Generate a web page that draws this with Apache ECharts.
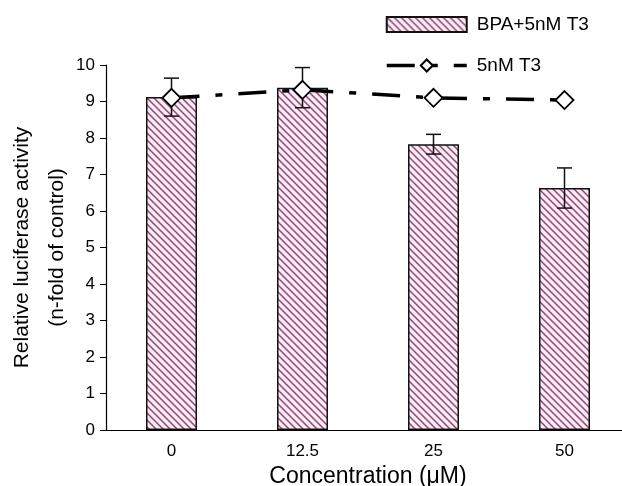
<!DOCTYPE html>
<html>
<head>
<meta charset="utf-8">
<script src="https://cdn.jsdelivr.net/npm/echarts@6/dist/echarts.min.js"></script>
<style>
  html, body { margin: 0; padding: 0; background: #fff; }
  #chart { width: 622px; height: 486px; }
</style>
</head>
<body>
<div id="chart"></div>
<script>
// data
var categories = ['0', '12.5', '25', '50'];
var bpaValues = [9.12, 9.38, 7.83, 6.63];
var bpaErrors = [0.52, 0.55, 0.27, 0.55];
var t3Values = [9.1, 9.32, 9.1, 9.04];

var t3Dash = [28, 16, 7, 16];

// hatch fill for the bars
function hatch () {
  var c = document.createElement('canvas');
  c.width = 7;
  c.height = 7;
  var ctx = c.getContext('2d');
  ctx.fillStyle = '#faeaf3';
  ctx.fillRect(0, 0, 7, 7);
  ctx.strokeStyle = '#8e4a74';
  ctx.lineWidth = 1.5;
  ctx.beginPath();
  ctx.moveTo(-1, -1); ctx.lineTo(8, 8);
  ctx.moveTo(-8, -1); ctx.lineTo(1, 8);
  ctx.moveTo(6, -1); ctx.lineTo(15, 8);
  ctx.stroke();
  return c;
}

var errData = bpaValues.map(function (v, i) {
  return [i, v - bpaErrors[i], v + bpaErrors[i]];
});

var chart = echarts.init(document.getElementById('chart'));
var font = 'Liberation Sans, Arial, sans-serif';

chart.setOption({
  backgroundColor: '#fff',
  animation: false,
  textStyle: { fontFamily: font, color: '#000' },
  legend: {
    orient: 'vertical',
    left: 380,
    top: 10,
    itemWidth: 80,
    itemHeight: 15,
    itemGap: 22,
    textStyle: { fontSize: 19, color: '#000', fontFamily: font, padding: [0, 0, 0, 5] },
    data: [
      { name: 'BPA+5nM T3', icon: 'rect' },
      { name: '5nM T3', lineStyle: { width: 3.5, type: t3Dash } }
    ]
  },
  grid: {
    left: 106,
    top: 65,
    width: 524,
    height: 365,
    outerBoundsMode: 'none'
  },
  xAxis: {
    type: 'category',
    data: categories,
    name: 'Concentration (\u03bcM)',
    nameLocation: 'middle',
    nameGap: 33,
    nameTextStyle: { fontSize: 23, color: '#000' },
    axisLine: { lineStyle: { color: '#000', width: 1.2 } },
    axisTick: { inside: true, length: 8, lineStyle: { color: '#000' } },
    axisLabel: { fontSize: 17, color: '#000', margin: 13 }
  },
  yAxis: {
    type: 'value',
    min: 0,
    max: 10,
    interval: 1,
    name: 'Relative luciferase activity\n(n-fold of control)',
    nameLocation: 'middle',
    nameRotate: 90,
    nameGap: 31,
    nameMoveOverlap: false,
    nameTextStyle: { fontSize: 21, color: '#000', lineHeight: 35 },
    splitLine: { show: false },
    axisLine: { show: true, lineStyle: { color: '#000', width: 1.2 } },
    axisTick: { show: true, length: 6, lineStyle: { color: '#000' } },
    axisLabel: { fontSize: 17, color: '#000', margin: 11 }
  },
  series: [
    {
      name: 'BPA+5nM T3',
      type: 'bar',
      barWidth: 51,
      data: bpaValues,
      itemStyle: {
        color: { image: hatch(), repeat: 'repeat' },
        borderColor: '#111',
        borderWidth: 1.5
      },
      z: 2
    },
    {
      name: 'errors',
      type: 'custom',
      data: errData,
      z: 3,
      renderItem: function (params, api) {
        var x = api.value(0);
        var lo = api.coord([x, api.value(1)]);
        var hi = api.coord([x, api.value(2)]);
        var hw = 7.5;
        var st = { stroke: '#111', lineWidth: 1.5 };
        return {
          type: 'group',
          children: [
            { type: 'line', shape: { x1: hi[0], y1: hi[1], x2: lo[0], y2: lo[1] }, style: st },
            { type: 'line', shape: { x1: hi[0] - hw, y1: hi[1], x2: hi[0] + hw, y2: hi[1] }, style: st },
            { type: 'line', shape: { x1: lo[0] - hw, y1: lo[1], x2: lo[0] + hw, y2: lo[1] }, style: st }
          ]
        };
      }
    },
    {
      name: '5nM T3',
      type: 'line',
      data: t3Values,
      symbol: 'diamond',
      symbolSize: 18,
      z: 5,
      lineStyle: { color: '#000', width: 3.5, type: t3Dash },
      itemStyle: { color: '#fff', borderColor: '#000', borderWidth: 1.8 }
    }
  ]
});
</script>
</body>
</html>
